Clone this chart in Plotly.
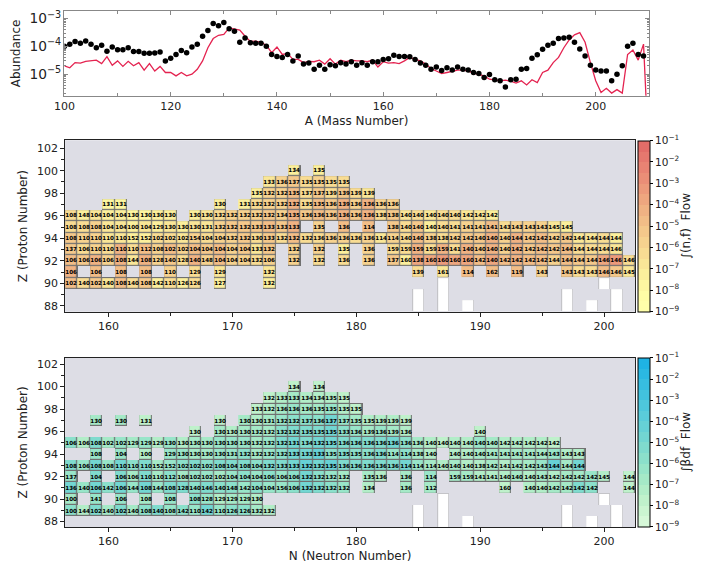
import plotly.graph_objects as go

# ---------------- top panel data ----------------
A_SOLAR = list(range(100, 210))
SOLAR_ABUND = [
    1.0e-4, 1.2e-4, 1.5e-4, 1.3e-4, 1.55e-4, 1.2e-4, 8.9e-5, 1.1e-4, 6.6e-5, 9.5e-5,   # 100-109
    7.6e-5, 7.6e-5, 8.9e-5, 6.5e-5, 6.5e-5, 5.6e-5, 5.6e-5, 5.8e-5, 6.3e-5, 3.0e-5,   # 110-119
    3.7e-5, 5.1e-5, 7.1e-5, 5.9e-5, 9.5e-5, 1.2e-4, 2.3e-4, 3.7e-4, 6.6e-4, 5.5e-4,   # 120-129
    7.2e-4, 4.3e-4, 3.5e-4, 1.4e-4, 2.0e-4, 1.35e-4, 1.3e-4, 1.3e-4, 1.0e-4, 5.1e-5,  # 130-139
    4.3e-5, 4.0e-5, 5.1e-5, 3.0e-5, 4.5e-5, 2.3e-5, 2.5e-5, 1.5e-5, 2.1e-5, 1.5e-5,   # 140-149
    2.2e-5, 2.0e-5, 2.6e-5, 2.3e-5, 2.8e-5, 2.1e-5, 2.6e-5, 2.1e-5, 2.8e-5, 2.8e-5,   # 150-159
    3.4e-5, 3.6e-5, 4.8e-5, 4.3e-5, 4.3e-5, 4.2e-5, 3.4e-5, 2.5e-5, 2.1e-5, 1.5e-5,   # 160-169
    1.8e-5, 1.35e-5, 1.7e-5, 1.4e-5, 1.8e-5, 1.5e-5, 1.4e-5, 1.15e-5, 1.05e-5, 7.6e-6, # 170-179
    9.8e-6, 6.3e-6, 5.8e-6, 3.5e-6, 6.3e-6, 6.6e-6, 1.5e-5, 1.6e-5, 3.7e-5, 5.0e-5,   # 180-189
    7.8e-5, 1.1e-4, 1.3e-4, 1.9e-4, 2.0e-4, 2.1e-4, 1.4e-4, 8.0e-5, 4.5e-5, 2.1e-5,   # 190-199
    1.4e-5, 1.3e-5, 1.3e-5, 5.8e-6, 1.0e-5, 2.0e-5, 1.0e-4, 1.3e-4, 5.1e-5, 4.5e-5,   # 200-209
]
A_MODEL = list(range(100, 211))
MODEL_ABUND = [
    2.0e-5, 1.7e-5, 2.6e-5, 2.5e-5, 2.9e-5, 3.0e-5, 3.2e-5, 2.4e-5, 4.3e-5, 2.1e-5,   # 100-109
    3.0e-5, 1.9e-5, 2.9e-5, 2.0e-5, 2.6e-5, 1.4e-5, 2.4e-5, 1.3e-5, 1.9e-5, 1.15e-5,  # 110-119
    1.15e-5, 8.7e-6, 1.15e-5, 8.7e-6, 1.0e-5, 1.5e-5, 3.0e-5, 8.9e-5, 1.9e-4, 2.5e-4, # 120-129
    2.7e-4, 4.6e-4, 4.1e-4, 3.8e-4, 2.3e-4, 1.5e-4, 1.55e-4, 1.4e-4, 1.1e-4, 5.9e-5,  # 130-139
    9.5e-5, 5.1e-5, 5.6e-5, 3.4e-5, 3.4e-5, 2.6e-5, 2.9e-5, 2.8e-5, 3.2e-5, 2.3e-5,   # 140-149
    3.6e-5, 2.3e-5, 3.2e-5, 2.8e-5, 3.2e-5, 3.0e-5, 3.0e-5, 2.8e-5, 3.2e-5, 1.8e-5,   # 150-159
    2.8e-5, 2.5e-5, 2.6e-5, 2.4e-5, 3.0e-5, 4.0e-5, 3.4e-5, 3.0e-5, 2.3e-5, 1.6e-5,   # 160-169
    1.3e-5, 1.05e-5, 1.15e-5, 1.3e-5, 1.4e-5, 1.4e-5, 1.3e-5, 1.1e-5, 1.0e-5, 8.7e-6, # 170-179
    6.6e-6, 6.1e-6, 5.8e-6, 6.1e-6, 5.6e-6, 4.8e-6, 5.8e-6, 4.1e-6, 6.3e-6, 5.0e-6,   # 180-189
    1.15e-5, 1.4e-5, 2.6e-5, 4.0e-5, 8.9e-5, 1.7e-4, 2.6e-4, 3.1e-4, 1.4e-4, 2.6e-5,  # 190-199
    5.8e-6, 2.2e-6, 3.1e-6, 2.1e-6, 2.8e-6, 2.1e-6, 5.1e-5, 7.4e-5, 3.2e-5, 1.2e-4,   # 200-209
    1.0e-8,                                                                         # 210
]

# ---------------- chart-of-nuclides panels ----------------
N_AXIS = list(range(157, 203))
Z_AXIS = list(range(88, 101))
N_TICKS = [160, 170, 180, 190, 200]
Z_TICKS = [88, 90, 92, 94, 96, 98, 100, 102]
FLOW_TICKS = [-9, -8, -7, -6, -5, -4, -3, -2, -1]
FLOW_TICK_TEXT = ["10<sup>\u2212%d</sup>" % (-v) for v in FLOW_TICKS]

# white (stable / long-lived) boxes: (N, Z)
WHITE_CELLS = [(185, 88), (185, 89), (187, 88), (187, 89), (187, 90), (189, 88),
               (197, 88), (197, 89), (199, 88), (200, 90), (201, 88), (201, 89)]

# (n,f) flow panel: rows of (N, fragment A label, log10 flow)
NF_Z100 = [(175, 134, -7.5), (177, 135, -7.5)]
NF_Z99 = [(173, 133, -7), (174, 136, -6), (175, 137, -5.5), (176, 135, -6.5), (177, 135, -6),
          (178, 135, -6.5), (179, 135, -6.5)]
NF_Z98 = [(172, 135, -7.5), (173, 132, -6), (174, 132, -6), (175, 135, -5), (176, 137, -6.5),
          (177, 137, -5.5), (178, 139, -6.5), (179, 139, -5.5), (180, 139, -6.5), (181, 139, -7)]
NF_Z97 = [(160, 131, -8), (161, 131, -8), (169, 130, -7.5), (171, 131, -7.5), (172, 132, -6.5),
          (173, 132, -6), (174, 132, -6), (175, 132, -4.5), (176, 135, -6.5), (177, 135, -5),
          (178, 136, -5.5), (179, 139, -4.5), (180, 136, -6), (181, 136, -4.5), (182, 136, -6),
          (183, 136, -6)]
NF_Z96 = [(157, 108, -6.5), (158, 148, -7.5), (159, 104, -7), (160, 104, -7.5), (161, 104, -7.5),
          (162, 130, -8), (163, 130, -8), (164, 130, -7.5), (165, 130, -7.5), (167, 130, -7.5),
          (168, 130, -7), (169, 132, -6.5), (170, 132, -6), (171, 132, -6), (172, 132, -6),
          (173, 132, -5.5), (174, 134, -6), (175, 135, -4.5), (176, 136, -5.5), (177, 136, -5),
          (178, 136, -5.5), (179, 136, -4.5), (180, 136, -5.5), (181, 136, -4.5), (182, 138, -6.5),
          (183, 138, -5.5), (184, 140, -7), (185, 140, -6.5), (186, 140, -7), (187, 140, -6.5),
          (188, 140, -6.5), (189, 142, -7), (190, 142, -7), (191, 142, -7.5)]
NF_Z95 = [(157, 108, -6.5), (158, 108, -6.5), (159, 108, -6), (160, 104, -7), (161, 104, -7),
          (162, 100, -7.5), (163, 104, -7), (164, 129, -7.5), (165, 130, -7), (166, 130, -7.5),
          (167, 130, -7), (168, 131, -7), (169, 132, -6), (170, 132, -5.5), (171, 132, -5.5),
          (172, 133, -5.5), (173, 133, -5), (174, 133, -5.5), (175, 133, -4.5), (177, 135, -6),
          (179, 136, -5), (181, 114, -5), (183, 138, -5.5), (184, 140, -6.5), (185, 140, -5.5),
          (186, 140, -7.5), (187, 140, -6.5), (188, 141, -6.5), (189, 141, -6), (190, 141, -6),
          (191, 141, -5), (192, 143, -6.5), (193, 143, -6), (194, 143, -6), (195, 143, -6),
          (196, 145, -7), (197, 145, -7.5)]
NF_Z94 = [(157, 108, -5.5), (158, 110, -6), (159, 110, -6), (160, 110, -7), (161, 110, -7),
          (162, 152, -7.5), (163, 152, -7.5), (164, 102, -6.5), (165, 102, -6.5), (166, 102, -7),
          (167, 154, -6), (168, 104, -6.5), (169, 104, -6), (170, 132, -6), (171, 132, -5.5),
          (172, 130, -6.5), (173, 133, -5.5), (174, 132, -6.5), (175, 132, -5), (176, 132, -6.5),
          (177, 136, -6.5), (178, 136, -6), (179, 136, -6), (180, 136, -6.5), (181, 136, -6),
          (182, 114, -7), (183, 114, -6), (184, 140, -6.5), (185, 140, -5), (186, 138, -6),
          (187, 138, -6.5), (188, 142, -6), (189, 142, -5.5), (190, 140, -5.5), (191, 140, -4.5),
          (192, 140, -6), (193, 144, -4.5), (194, 142, -5.5), (195, 142, -5), (196, 142, -6),
          (197, 142, -5.5), (198, 144, -7), (199, 144, -7), (200, 144, -6.5), (201, 144, -7.5)]
NF_Z93 = [(157, 137, -5.5), (158, 106, -6.5), (159, 110, -6), (160, 110, -6.5), (161, 110, -4.5),
          (162, 110, -6.5), (163, 112, -5), (164, 108, -6), (165, 102, -5), (166, 102, -6),
          (167, 104, -5), (168, 104, -5.5), (169, 104, -5), (170, 104, -6), (171, 104, -5.5),
          (172, 133, -7), (173, 132, -5.5), (175, 132, -6), (177, 132, -6), (179, 135, -7.5),
          (181, 136, -6), (183, 159, -6.5), (184, 159, -6.5), (185, 159, -4.5), (186, 159, -6.5),
          (187, 159, -4.5), (188, 141, -6.5), (189, 140, -4.5), (190, 140, -5.5), (191, 140, -4.5),
          (192, 140, -6), (193, 142, -4.5), (194, 142, -5.5), (195, 142, -5), (196, 142, -5.5),
          (197, 144, -5), (198, 144, -6.5), (199, 144, -6.5), (200, 144, -6.5), (201, 146, -7)]
NF_Z92 = [(157, 106, -5), (158, 106, -5.5), (159, 106, -4.5), (160, 106, -6), (161, 108, -4.5),
          (162, 144, -7), (163, 108, -4.5), (164, 128, -6), (165, 140, -5.5), (166, 128, -6.5),
          (167, 140, -4.5), (168, 148, -6), (169, 104, -5), (170, 104, -6), (171, 104, -6),
          (172, 132, -6.5), (173, 106, -6), (175, 132, -6), (177, 132, -6.5), (179, 136, -6.5),
          (181, 136, -6), (183, 137, -5.5), (184, 160, -7.5), (185, 138, -4), (186, 160, -4),
          (187, 160, -3.5), (188, 160, -4), (189, 160, -4), (190, 142, -5), (191, 140, -4),
          (192, 142, -5), (193, 142, -4.5), (194, 142, -5), (195, 142, -5), (196, 144, -6),
          (197, 144, -5), (198, 144, -5.5), (199, 144, -5.5), (200, 146, -4), (201, 146, -3.5),
          (202, 146, -6.5)]
NF_Z91 = [(157, 106, -4.5), (159, 106, -5), (161, 108, -5), (163, 108, -5), (165, 110, -6),
          (167, 129, -6.5), (169, 129, -7), (173, 132, -7), (185, 139, -6.5), (187, 161, -7),
          (189, 114, -5), (191, 162, -5), (193, 119, -5), (195, 143, -6), (197, 143, -5.5),
          (198, 143, -6.5), (199, 143, -6.5), (200, 146, -5), (201, 146, -5.5), (202, 145, -7)]
NF_Z90 = [(157, 102, -5), (158, 140, -6.5), (159, 102, -5.5), (160, 140, -7), (161, 108, -5),
          (162, 140, -6.5), (163, 108, -5.5), (164, 142, -7.5), (165, 110, -6.5), (166, 126, -7.5),
          (167, 126, -6.5), (169, 127, -7.5), (173, 132, -7.5)]
NF_ROWS = [(100, NF_Z100), (99, NF_Z99), (98, NF_Z98), (97, NF_Z97), (96, NF_Z96), (95, NF_Z95),
           (94, NF_Z94), (93, NF_Z93), (92, NF_Z92), (91, NF_Z91), (90, NF_Z90)]

# beta-delayed fission flow panel
BDF_Z100 = [(175, 134, -8), (177, 134, -8)]
BDF_Z99 = [(173, 132, -8), (174, 133, -7.5), (175, 133, -7), (176, 134, -7.5), (177, 134, -7.5),
           (178, 135, -7.5), (179, 135, -8)]
BDF_Z98 = [(172, 133, -8), (173, 132, -7.5), (174, 136, -7), (175, 136, -6.5), (176, 136, -7),
           (177, 135, -7), (178, 135, -6.5), (179, 135, -7.5), (180, 135, -8)]
BDF_Z97 = [(159, 130, -7), (161, 130, -7), (163, 131, -8), (169, 130, -8), (171, 130, -7),
           (172, 130, -7.5), (173, 131, -7), (174, 132, -6.5), (175, 132, -6), (176, 137, -6),
           (177, 136, -6), (178, 137, -5), (179, 137, -6.5), (180, 135, -7), (181, 135, -7.5),
           (182, 139, -7.5), (183, 139, -7.5), (184, 139, -8)]
BDF_Z96 = [(167, 130, -8), (169, 130, -7), (170, 130, -7.5), (171, 130, -7), (172, 132, -7),
           (173, 132, -7), (174, 132, -6), (175, 132, -5.5), (176, 135, -5.5), (177, 135, -5.5),
           (178, 135, -5), (179, 133, -6), (180, 136, -6.5), (181, 139, -7), (182, 136, -6.5),
           (183, 139, -7), (184, 136, -7.5), (190, 140, -8)]
BDF_Z95 = [(157, 106, -6), (158, 106, -7.5), (159, 108, -5.5), (160, 102, -7), (161, 102, -6.5),
           (162, 129, -7), (163, 129, -6.5), (164, 129, -7.5), (165, 130, -6.5), (166, 130, -7.5),
           (167, 130, -7), (168, 130, -7), (169, 130, -6.5), (170, 130, -6.5), (171, 130, -6.5),
           (172, 132, -7), (173, 132, -6.5), (174, 132, -5.5), (175, 131, -5), (176, 134, -5.5),
           (177, 132, -5), (178, 135, -5), (179, 136, -5.5), (180, 136, -5.5), (181, 136, -5.5),
           (182, 136, -5.5), (183, 136, -5), (184, 136, -6), (185, 136, -7), (186, 140, -7.5),
           (187, 140, -8), (188, 140, -7.5), (189, 140, -7.5), (190, 140, -6.5), (191, 140, -7),
           (192, 142, -7.5), (193, 142, -7.5), (194, 142, -7.5), (195, 142, -7.5), (196, 142, -8)]
BDF_Z94 = [(159, 108, -6.5), (161, 104, -6.5), (163, 100, -7.5), (165, 129, -6.5), (166, 130, -6.5),
           (167, 130, -7), (168, 130, -7), (169, 130, -6.5), (170, 131, -6.5), (171, 132, -6),
           (172, 132, -7), (173, 132, -6.5), (174, 132, -6), (175, 133, -5), (176, 133, -5),
           (177, 133, -4.5), (178, 135, -6), (179, 135, -5.5), (180, 135, -6), (181, 136, -6),
           (182, 136, -5.5), (183, 114, -6.5), (184, 114, -6), (185, 138, -7), (186, 140, -7.5),
           (188, 140, -7.5), (189, 140, -7.5), (190, 140, -7), (191, 141, -7), (192, 141, -7),
           (193, 141, -7), (194, 141, -7), (195, 144, -7), (196, 143, -6.5), (197, 143, -7.5),
           (198, 143, -7.5)]
BDF_Z93 = [(157, 108, -5.5), (158, 106, -6.5), (159, 108, -5), (160, 108, -6.5), (161, 110, -5),
           (162, 110, -6), (163, 110, -5.5), (164, 152, -7), (165, 152, -6.5), (166, 102, -6),
           (167, 102, -5.5), (168, 102, -6), (169, 108, -5.5), (170, 104, -5.5), (171, 108, -5.5),
           (172, 104, -6), (173, 132, -5.5), (174, 133, -5.5), (175, 133, -5), (176, 132, -4.5),
           (177, 132, -5), (178, 135, -4.5), (179, 136, -5.5), (180, 136, -5.5), (181, 136, -5.5),
           (182, 136, -5.5), (183, 136, -5.5), (184, 114, -5), (185, 114, -6.5), (186, 114, -7),
           (187, 140, -7.5), (188, 140, -7), (189, 140, -7.5), (190, 138, -7.5), (191, 142, -7),
           (192, 141, -7.5), (193, 142, -7), (194, 142, -7), (195, 143, -6.5), (196, 144, -4.5),
           (197, 144, -7), (198, 144, -5)]
BDF_Z92 = [(157, 137, -6.5), (159, 104, -5.5), (161, 106, -5.5), (162, 106, -7), (163, 110, -5.5),
           (164, 110, -7), (165, 112, -6), (166, 108, -7), (167, 102, -6.5), (168, 102, -6.5),
           (169, 102, -7), (170, 104, -6.5), (171, 104, -6), (172, 104, -6.5), (173, 106, -6),
           (174, 106, -6.5), (175, 106, -6), (176, 132, -5), (177, 132, -6), (178, 132, -6.5),
           (179, 132, -7), (181, 135, -7), (182, 136, -7.5), (184, 136, -7), (186, 114, -6.5),
           (188, 159, -7), (189, 159, -7), (190, 141, -7.5), (191, 141, -7.5), (192, 140, -7.5),
           (193, 140, -7), (194, 140, -7.5), (195, 143, -7), (196, 142, -7.5), (197, 142, -7),
           (198, 142, -7), (199, 142, -6.5), (200, 145, -7.5), (202, 144, -8)]
BDF_Z91 = [(157, 136, -5), (158, 140, -6.5), (159, 106, -5), (160, 142, -6), (161, 106, -5),
           (162, 144, -6.5), (163, 108, -5), (164, 144, -6.5), (165, 108, -5.5), (166, 128, -5.5),
           (167, 140, -6), (168, 146, -5.5), (169, 140, -6), (170, 148, -6), (171, 142, -6.5),
           (172, 104, -6), (173, 104, -6.5), (174, 156, -6.5), (175, 106, -6), (176, 132, -5),
           (177, 132, -5.5), (178, 132, -6), (179, 132, -6.5), (181, 134, -7.5), (184, 136, -7),
           (186, 112, -7), (192, 160, -8), (194, 140, -7.5), (195, 140, -7.5), (196, 142, -7),
           (197, 142, -7), (198, 142, -5.5), (199, 142, -6), (202, 144, -8)]
BDF_Z90 = [(157, 100, -7), (159, 141, -6.5), (161, 106, -6.5), (163, 108, -7), (165, 108, -6.5),
           (167, 108, -6), (168, 128, -6.5), (169, 129, -7.5), (170, 129, -7), (171, 129, -7),
           (172, 130, -7.5)]
BDF_Z89 = [(157, 100, -6), (158, 144, -7.5), (159, 102, -5.5), (160, 140, -7), (161, 102, -5.5),
           (162, 140, -7), (163, 108, -6), (164, 140, -5.5), (165, 108, -6.5), (166, 142, -6),
           (167, 110, -6.5), (168, 142, -5), (169, 110, -6.5), (170, 126, -6), (171, 126, -6),
           (172, 132, -7), (173, 132, -7.5)]
BDF_ROWS = [(100, BDF_Z100), (99, BDF_Z99), (98, BDF_Z98), (97, BDF_Z97), (96, BDF_Z96),
            (95, BDF_Z95), (94, BDF_Z94), (93, BDF_Z93), (92, BDF_Z92), (91, BDF_Z91),
            (90, BDF_Z90), (89, BDF_Z89)]

# ---------------- styles ----------------
NF_COLORS = ["#FFFFAA", "#FFFDA6", "#FDF7A1", "#FBEF9C", "#F9E697", "#F8DC93", "#F6D28F", "#F4C88B",
             "#F2BD87", "#F0B283", "#EEA67F", "#EC9A7B", "#EA8E77", "#E88373", "#E5786E", "#E26D68"]
BDF_COLORS = ["#D6F8D8", "#CBF5D1", "#BFF1CB", "#B2EDC8", "#A5E9C7", "#98E5C9", "#8BE0CB", "#7FDBCE",
              "#72D6D2", "#66D1D6", "#5ACCDA", "#4EC7DC", "#42C2DE", "#37BDE0", "#2BB8E2", "#1FB3E4"]
FONT = "DejaVu Sans"
BG = "#DDDDE5"
W, H = 702, 571


def stepped(colors):
    n = len(colors)
    cs = []
    for i, c in enumerate(colors):
        cs.append([i / n, c])
        cs.append([(i + 1) / n, c])
    return cs


def grid(rows):
    z = [[None] * len(N_AXIS) for _ in Z_AXIS]
    txt = [[""] * len(N_AXIS) for _ in Z_AXIS]
    occ = [[None] * len(N_AXIS) for _ in Z_AXIS]
    for zval, cells in rows:
        for n, a, lf in cells:
            z[zval - 88][n - 157] = lf
            txt[zval - 88][n - 157] = "<b>%d</b>" % a
            occ[zval - 88][n - 157] = 1
    return z, txt, occ


def white_grid():
    occ = [[None] * len(N_AXIS) for _ in Z_AXIS]
    for n, zval in WHITE_CELLS:
        occ[zval - 88][n - 157] = 1
    return occ


fig = go.Figure()

# top panel
fig.add_trace(go.Scatter(x=A_MODEL, y=MODEL_ABUND, mode="lines",
                         line=dict(color="#E42350", width=1.3), xaxis="x", yaxis="y",
                         hoverinfo="skip", showlegend=False))
fig.add_trace(go.Scatter(x=A_SOLAR, y=SOLAR_ABUND, mode="markers",
                         marker=dict(color="black", size=5.5), xaxis="x", yaxis="y",
                         hoverinfo="skip", showlegend=False))

panels = [("x2", "y2", NF_ROWS, NF_COLORS, "\u222b(n,f)  Flow", (138.3, 311.0)),
          ("x3", "y3", BDF_ROWS, BDF_COLORS, "\u222b\u03b2df  Flow", (357.3, 527.7))]
wocc = white_grid()
annotations = []
for xa, ya, rows, cols, ctitle, (ytop, ybot) in panels:
    z, txt, occ = grid(rows)
    fig.add_trace(go.Heatmap(x=N_AXIS, y=Z_AXIS, z=occ, xaxis=xa, yaxis=ya,
                             colorscale=[[0, "#707070"], [1, "#707070"]], showscale=False,
                             hoverinfo="skip"))
    fig.add_trace(go.Heatmap(x=N_AXIS, y=Z_AXIS, z=wocc, xaxis=xa, yaxis=ya,
                             colorscale=[[0, "#C4C4C8"], [1, "#C4C4C8"]], showscale=False,
                             hoverinfo="skip"))
    fig.add_trace(go.Heatmap(x=N_AXIS, y=Z_AXIS, z=wocc, xaxis=xa, yaxis=ya, xgap=2, ygap=0,
                             colorscale=[[0, "#FFFFFF"], [1, "#FFFFFF"]], showscale=False,
                             hoverinfo="skip"))
    fig.add_trace(go.Heatmap(
        x=N_AXIS, y=Z_AXIS, z=z, text=txt, texttemplate="%{text}",
        textfont=dict(family=FONT, size=5.6, color="black"),
        xaxis=xa, yaxis=ya, xgap=1.2, ygap=1.2, zmin=-9, zmax=-1,
        colorscale=stepped(cols), hoverinfo="skip",
        colorbar=dict(x=637.3 / W, xanchor="left", y=1 - (ytop + ybot) / 2 / H, yanchor="middle",
                      len=(ybot - ytop) / H, lenmode="fraction", thickness=12,
                      xpad=0, ypad=0, outlinewidth=1, outlinecolor="black",
                      tickvals=FLOW_TICKS, ticktext=FLOW_TICK_TEXT, ticks="outside",
                      ticklen=3, tickcolor="black",
                      tickfont=dict(family=FONT, size=10.5, color="#222"))))
    annotations.append(dict(text=ctitle, xref="paper", yref="paper", x=686 / W,
                            y=1 - (ytop + ybot) / 2 / H, textangle=-90, showarrow=False,
                            xanchor="center", yanchor="middle",
                            font=dict(family=FONT, size=12, color="#222")))

axis_font = dict(family=FONT, size=11, color="#222")
title_font = dict(family=FONT, size=12, color="#222")

layout = dict(
    width=W, height=H, margin=dict(l=0, r=0, t=0, b=0),
    paper_bgcolor="white", plot_bgcolor="white", showlegend=False,
    font=dict(family=FONT, color="#222"),
    annotations=annotations,
    xaxis=dict(domain=[54.3 / W, 648 / W], range=[100, 210], anchor="y",
               tickvals=[100, 120, 140, 160, 180, 200], ticks="inside", ticklen=4,
               tickcolor="#888", showline=True, linecolor="#888", mirror="allticks",
               showgrid=False, zeroline=False, tickfont=axis_font,
               minor=dict(tickvals=[110, 130, 150, 170, 190, 210], ticks="inside", ticklen=2.5, tickcolor="#888"),
               title=dict(text="A (Mass Number)", font=title_font, standoff=4)),
    yaxis=dict(domain=[1 - 93.3 / H, 1 - 8.3 / H], type="log", range=[-5.77, -2.74], anchor="x",
               dtick=1, exponentformat="power", ticks="inside", ticklen=4, tickcolor="#888",
               showline=True, linecolor="#888", mirror="allticks", showgrid=False,
               tickfont=axis_font,
               minor=dict(dtick="D1", ticks="inside", ticklen=2, tickcolor="#888"),
               title=dict(text="Abundance", font=title_font, standoff=6)),
)
for i, (xa, ya, rows, cols, ctitle, (ytop, ybot)) in enumerate(panels):
    k = xa[1:]
    yr = [87.47, 102.7] if k == "2" else [87.52, 102.56]
    layout["xaxis" + k] = dict(
        domain=[55 / W, 634 / W], range=[156.5, 202.5], anchor=ya,
        tickvals=N_TICKS, ticks="outside", ticklen=4, tickcolor="#222",
        showline=True, linecolor="#222", mirror=True, showgrid=False, zeroline=False,
        tickfont=axis_font,
        minor=dict(tickvals=[165, 175, 185, 195], ticks="outside", ticklen=3, tickcolor="#222"),
        title=dict(text="N (Neutron Number)" if k == "3" else "", font=title_font, standoff=4))
    layout["yaxis" + k] = dict(
        domain=[1 - ybot / H, 1 - ytop / H], range=yr, anchor=xa,
        tickvals=Z_TICKS, ticks="outside", ticklen=4, tickcolor="#222",
        showline=True, linecolor="#222", mirror=True, showgrid=False, zeroline=False,
        tickfont=axis_font,
        minor=dict(tickvals=[89, 91, 93, 95, 97, 99, 101], ticks="outside", ticklen=3, tickcolor="#222"),
        title=dict(text="Z (Proton Number)", font=title_font, standoff=6))
fig.update_layout(**layout)

for k in ["2", "3"]:
    fig.add_shape(type="rect", xref="x%s domain" % k, yref="y%s domain" % k,
                  x0=0, x1=1, y0=0, y1=1, fillcolor=BG, line=dict(width=0), layer="below")

fig.write_html("out.html", config={"displayModeBar": False},
               post_script="document.body.style.margin='0';document.body.style.overflow='hidden';")
